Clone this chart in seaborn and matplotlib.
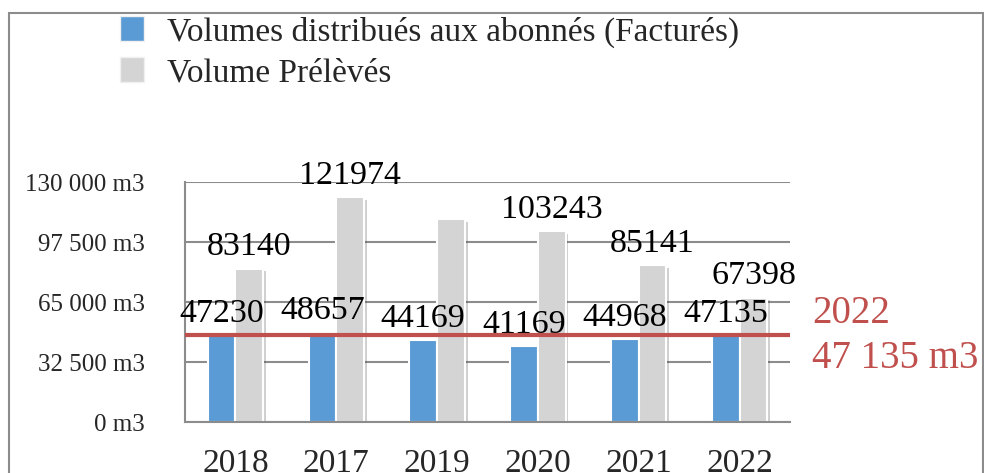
import matplotlib.pyplot as plt
import matplotlib.patheffects as pe
from matplotlib.patches import Patch, Rectangle
import seaborn as sns
import pandas as pd

annees = ['2018', '2017', '2019', '2020', '2021', '2022']
factures = [47230, 48657, 44169, 41169, 44968, 47135]
preleves = [83140, 121974, 110000, 103243, 85141, 67398]
# le volume prélevé 2019 n'a pas d'étiquette sur le graphique d'origine
labels_factures = ['47230', '48657', '44169', '41169', '44968', '47135']
labels_preleves = ['83140', '121974', '', '103243', '85141', '67398']
ref_valeur = 47135
ref_texte = '2022\n47 135 m3'
yticks = [0, 32500, 65000, 97500, 130000]
ytick_labels = ['0 m3', '32 500 m3', '65 000 m3', '97 500 m3', '130 000 m3']

serie_fact = 'Volumes distribués aux abonnés (Facturés)'
serie_prel = 'Volume Prélèvés'
couleurs = {serie_fact: '#5b9bd5', serie_prel: '#d4d4d4'}
gris = '#8c8c8c'
rouge = '#c0504d'

df = pd.DataFrame({
    'annee': annees * 2,
    'volume': factures + preleves,
    'serie': [serie_fact] * len(annees) + [serie_prel] * len(annees),
})

sns.set_style('white')
plt.rcParams['font.family'] = ['Liberation Serif', 'DejaVu Serif']

fig = plt.figure(figsize=(9.84, 4.73), dpi=100)
ax = fig.add_axes([185 / 984, 1 - 422 / 473, 605 / 984, 240 / 473])

sns.barplot(data=df, x='annee', y='volume', hue='serie', order=annees,
            hue_order=[serie_fact, serie_prel], palette=couleurs, saturation=1,
            width=0.55, edgecolor='white', linewidth=1.5, legend=False, ax=ax, zorder=2)

for patch in ax.patches:
    patch.set_path_effects([pe.SimplePatchShadow(offset=(2, -2), alpha=0.25), pe.Normal()])

for cont, labs in zip(ax.containers, [labels_factures, labels_preleves]):
    ax.bar_label(cont, labels=labs, padding=4.5, fontsize=24.5, color='black')

ax.axhline(ref_valeur, color=rouge, lw=3, zorder=3)

ax.set_xlim(-0.5, len(annees) - 0.5)
ax.set_ylim(0, 130000)
ax.set_yticks(yticks)
ax.set_yticklabels(ytick_labels, fontsize=18)
ax.set_xticks([i - 0.5 for i in range(len(annees) + 1)], minor=True)
ax.tick_params(axis='x', which='major', length=0, pad=19, labelsize=24)
ax.tick_params(axis='x', which='minor', length=5, width=1.5, color=gris)
ax.tick_params(axis='y', length=5, width=1.5, color=gris, pad=24)
ax.set_xlabel('')
ax.set_ylabel('')
ax.yaxis.grid(True, color=gris, linewidth=1.5, zorder=0)
ax.set_axisbelow(True)
for side in ['top', 'right']:
    ax.spines[side].set_visible(False)
for side in ['left', 'bottom']:
    ax.spines[side].set_color(gris)
    ax.spines[side].set_linewidth(1.5)

fig.text(812 / 984, 1 - 336 / 473, ref_texte, color=rouge, fontsize=28,
         ha='left', va='center', linespacing=1.28)

handles = [Patch(facecolor=couleurs[s], edgecolor='#f0f0f0', label=s) for s in [serie_fact, serie_prel]]
fig.legend(handles=handles, loc='upper left', bbox_to_anchor=(120 / 984, 1 - 16 / 473),
           frameon=False, fontsize=24, handlelength=0.72, handleheight=0.8,
           handletextpad=0.7, labelspacing=0.28, borderpad=0, borderaxespad=0)

fig.patches.append(Rectangle((9 / 984, -0.1), 974 / 984, 1 - 13 / 473 + 0.1,
                             transform=fig.transFigure, fill=False, edgecolor=gris, lw=1.5))

fig.savefig('out.png', dpi=100)
